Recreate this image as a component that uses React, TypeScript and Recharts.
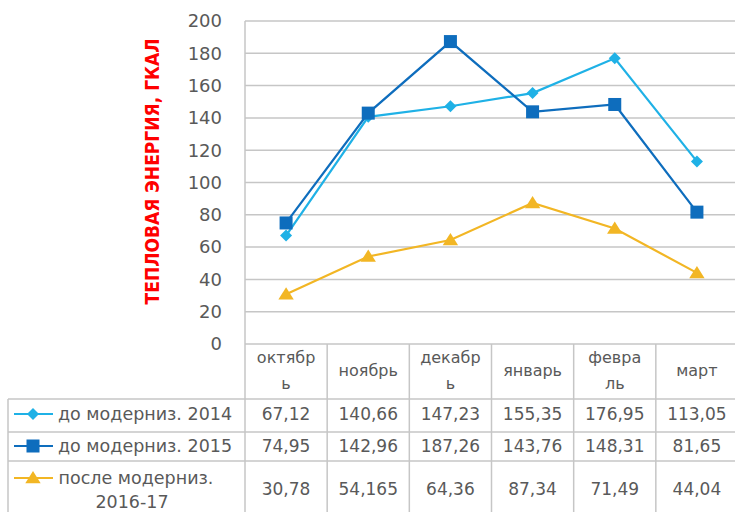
import React from "react";
import { LineChart, Line, XAxis, YAxis, CartesianGrid } from "recharts";

const months = ["октябрь", "ноябрь", "декабрь", "январь", "февраль", "март"];
const headerLabels = [["октябр", "ь"], ["ноябрь"], ["декабр", "ь"], ["январь"], ["февра", "ль"], ["март"]];
const s2014 = [67.12, 140.66, 147.23, 155.35, 176.95, 113.05];
const s2015 = [74.95, 142.96, 187.26, 143.76, 148.31, 81.65];
const s2016 = [30.78, 54.165, 64.36, 87.34, 71.49, 44.04];
const seriesNames = ["до модерниз. 2014", "до модерниз. 2015", "после модерниз.", "2016-17"];
const yTicks = [0, 20, 40, 60, 80, 100, 120, 140, 160, 180, 200];
const yLabel = "ТЕПЛОВАЯ ЭНЕРГИЯ, ГКАЛ";

const data = months.map((m, i) => ({ month: m, a: s2014[i], b: s2015[i], c: s2016[i] }));

const C1 = "#1fb1e6";
const C2 = "#0e6dbd";
const C3 = "#f2b624";
const GRID = "#c6c6c6";
const TXT = "#595959";
const FONT = "'DejaVu Sans', sans-serif";

const W = 740;
const H = 512;
const PLOT_L = 245;
const PLOT_R = 738;
const PLOT_B = 344;
const COL_W = (PLOT_R - PLOT_L) / months.length;
const ROWS = [399, 432, 461];
const ROW_C = [414, 446, 489];

const fmt = (v: number) => String(v).replace(".", ",");

const diamond = (cx: number, cy: number, r: number, fill: string, key?: string) => (
  <path key={key} d={`M${cx},${cy - r}L${cx + r},${cy}L${cx},${cy + r}L${cx - r},${cy}Z`} fill={fill} />
);
const square = (cx: number, cy: number, r: number, fill: string, key?: string) => (
  <rect key={key} x={cx - r} y={cy - r} width={2 * r} height={2 * r} fill={fill} />
);
const triangle = (cx: number, cy: number, r: number, fill: string, key?: string) => (
  <path key={key} d={`M${cx},${cy - r}L${cx + r * 1.1},${cy + r * 0.75}L${cx - r * 1.1},${cy + r * 0.75}Z`} fill={fill} />
);

const DotA = (p: any) => (p.cx == null ? <g key={`a${p.index}`} /> : diamond(p.cx, p.cy, 6, C1, `a${p.index}`));
const DotB = (p: any) => (p.cx == null ? <g key={`b${p.index}`} /> : square(p.cx, p.cy, 6.5, C2, `b${p.index}`));
const DotC = (p: any) => (p.cx == null ? <g key={`c${p.index}`} /> : triangle(p.cx, p.cy, 7, C3, `c${p.index}`));

const YLabel = (props: any) => {
  const vb = props.viewBox || { x: 0, y: 21, width: PLOT_L, height: PLOT_B - 21 };
  const cx = 152;
  const cy = vb.y + vb.height / 2 - 11;
  return (
    <text
      x={cx}
      y={cy}
      transform={`rotate(-90, ${cx}, ${cy})`}
      textAnchor="middle"
      dominantBaseline="central"
      fill="#ff0000"
      fontSize={19}
      fontWeight="bold"
      fontFamily="'DejaVu Sans Condensed', 'DejaVu Sans', sans-serif"
    >
      {yLabel}
    </text>
  );
};

const ColumnTick = (props: any) => {
  const { x, y, index } = props;
  const left = x - COL_W / 2;
  const right = x + COL_W / 2;
  const lines = headerLabels[index] || [];
  const vals = [s2014[index], s2015[index], s2016[index]];
  return (
    <g>
      {ROWS.map((ry) => (
        <line key={ry} x1={left} x2={right} y1={ry} y2={ry} stroke={GRID} strokeWidth={1.5} />
      ))}
      <line x1={right} x2={right} y1={y} y2={H} stroke={GRID} strokeWidth={1.5} />
      {lines.length === 2 ? (
        <>
          <text x={x} y={357} dy="0.355em" textAnchor="middle" fill={TXT} fontSize={16} fontFamily={FONT}>{lines[0]}</text>
          <text x={x} y={383} dy="0.355em" textAnchor="middle" fill={TXT} fontSize={16} fontFamily={FONT}>{lines[1]}</text>
        </>
      ) : (
        <text x={x} y={370} dy="0.355em" textAnchor="middle" fill={TXT} fontSize={16} fontFamily={FONT}>{lines[0]}</text>
      )}
      {vals.map((v, k) => (
        <text key={k} x={x} y={ROW_C[k]} dy="0.355em" textAnchor="middle" fill={TXT} fontSize={17} fontFamily={FONT}>
          {fmt(v)}
        </text>
      ))}
      {index === 0 && (
        <g>
          <line x1={left} x2={left} y1={y} y2={H} stroke={GRID} strokeWidth={1.5} />
          <line x1={8} x2={8} y1={ROWS[0]} y2={H} stroke={GRID} strokeWidth={1.5} />
          {ROWS.map((ry) => (
            <line key={ry} x1={8} x2={left} y1={ry} y2={ry} stroke={GRID} strokeWidth={1.5} />
          ))}
          <line x1={14} x2={53} y1={ROW_C[0]} y2={ROW_C[0]} stroke={C1} strokeWidth={2} />
          {diamond(33, ROW_C[0], 6, C1)}
          <text x={58} y={ROW_C[0]} dy="0.355em" fill={TXT} fontSize={17.5} fontFamily={FONT}>{seriesNames[0]}</text>
          <line x1={14} x2={53} y1={ROW_C[1]} y2={ROW_C[1]} stroke={C2} strokeWidth={2} />
          {square(33, ROW_C[1], 6.5, C2)}
          <text x={58} y={ROW_C[1]} dy="0.355em" fill={TXT} fontSize={17.5} fontFamily={FONT}>{seriesNames[1]}</text>
          <line x1={14} x2={53} y1={478} y2={478} stroke={C3} strokeWidth={2} />
          {triangle(33, 478, 7, C3)}
          <text x={136} y={478} dy="0.355em" textAnchor="middle" fill={TXT} fontSize={17.5} fontFamily={FONT}>{seriesNames[2]}</text>
          <text x={132} y={502} dy="0.355em" textAnchor="middle" fill={TXT} fontSize={17.5} fontFamily={FONT}>{seriesNames[3]}</text>
        </g>
      )}
    </g>
  );
};

export default function App() {
  return (
    <div style={{ position: "absolute", left: 0, top: 0, width: 735, height: H, overflow: "hidden", background: "#fff" }}>
      <LineChart width={W} height={H} data={data} margin={{ top: 21, right: W - PLOT_R, bottom: 0, left: 0 }}>
        <CartesianGrid vertical={false} stroke={GRID} strokeWidth={1.5} />
        <XAxis
          dataKey="month"
          height={H - PLOT_B}
          axisLine={false}
          tickLine={false}
          tickSize={0}
          tickMargin={0}
          interval={0}
          padding={{ left: COL_W / 2, right: COL_W / 2 }}
          tick={<ColumnTick />}
        />
        <YAxis
          width={PLOT_L}
          domain={[0, 200]}
          ticks={yTicks}
          axisLine={{ stroke: GRID, strokeWidth: 1.5 }}
          tickLine={false}
          tickSize={0}
          tickMargin={23}
          tick={{ fill: TXT, fontSize: 18, fontFamily: FONT }}
          label={<YLabel />}
        />
        <Line type="linear" dataKey="a" stroke={C1} strokeWidth={2.2} dot={DotA} activeDot={false} isAnimationActive={false} />
        <Line type="linear" dataKey="b" stroke={C2} strokeWidth={2.2} dot={DotB} activeDot={false} isAnimationActive={false} />
        <Line type="linear" dataKey="c" stroke={C3} strokeWidth={2.2} dot={DotC} activeDot={false} isAnimationActive={false} />
      </LineChart>
    </div>
  );
}
